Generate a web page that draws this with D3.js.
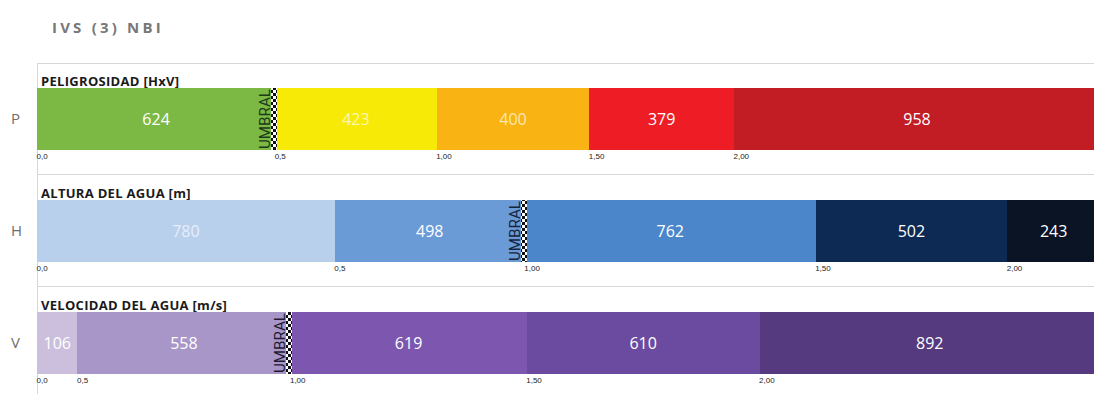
<!DOCTYPE html>
<html><head><meta charset="utf-8">
<script src="https://cdn.jsdelivr.net/npm/d3@7"></script>
<style>
html,body{margin:0;padding:0;background:#fff;}
svg{display:block;}
</style></head>
<body>
<svg id="chart" width="1094" height="394"></svg>
<script>
const title = "IVS (3) NBI";
const rowKeys = ["P", "H", "V"];
const rowTitles = ["PELIGROSIDAD [HxV]", "ALTURA DEL AGUA [m]", "VELOCIDAD DEL AGUA [m/s]"];
const valuesP = [624, 423, 400, 379, 958];
const valuesH = [780, 498, 762, 502, 243];
const valuesV = [106, 558, 619, 610, 892];
const tickLabels = ["0,0", "0,5", "1,00", "1,50", "2,00"];
const umbralIndex = [1, 2, 2];
const colorsP = ["#7cb944", "#f7ea07", "#f9b313", "#ee1c25", "#c21c25"];
const colorsH = ["#b9d0ec", "#6b9bd7", "#4b86cb", "#0c2a53", "#0a1425"];
const colorsV = ["#cbbfdd", "#a896c8", "#7d56b0", "#6b4b9f", "#553a7f"];
const labelColorsP = ["#fff", "#fbf6b0", "#fde6b0", "#fff", "#fff"];
const labelColorsH = ["#e6eef9", "#fff", "#fff", "#fff", "#fff"];
const labelColorsV = ["#fff", "#fff", "#fff", "#fff", "#fff"];

const rows = [
  {key: rowKeys[0], title: rowTitles[0], values: valuesP, colors: colorsP, lc: labelColorsP, umbral: umbralIndex[0], uc: "#1d3a1b"},
  {key: rowKeys[1], title: rowTitles[1], values: valuesH, colors: colorsH, lc: labelColorsH, umbral: umbralIndex[1], uc: "#16233a"},
  {key: rowKeys[2], title: rowTitles[2], values: valuesV, colors: colorsV, lc: labelColorsV, umbral: umbralIndex[2], uc: "#221a30"}
];

const svg = d3.select("#chart");
const total = d3.max(rows, r => d3.sum(r.values));
const x = d3.scaleLinear().domain([0, total]).range([37, 1100]);

// checker pattern
const defs = svg.append("defs");
const pat = defs.append("pattern").attr("id", "checker").attr("patternUnits", "userSpaceOnUse")
  .attr("width", 6).attr("height", 6);
pat.append("rect").attr("width", 6).attr("height", 6).attr("fill", "#fff");
pat.append("rect").attr("x", 0).attr("y", 0).attr("width", 3).attr("height", 3).attr("fill", "#111");
pat.append("rect").attr("x", 3).attr("y", 3).attr("width", 3).attr("height", 3).attr("fill", "#111");

// title
svg.append("text").attr("x", 52).attr("y", 33).text(title)
  .attr("font-family", "Open Sans, sans-serif").attr("font-weight", 700)
  .attr("font-size", 15).attr("letter-spacing", 3.2).attr("fill", "#787878");

// frame lines
svg.append("line").attr("x1", 37).attr("x2", 1094).attr("y1", 63.5).attr("y2", 63.5).attr("stroke", "#d8d8d8");
svg.append("line").attr("x1", 37.5).attr("x2", 37.5).attr("y1", 63).attr("y2", 394).attr("stroke", "#d8d8d8");

const rowTop = [88, 200, 312];
const barH = 62;

rows.forEach((r, i) => {
  const top = rowTop[i];
  const g = svg.append("g");
  if (i > 0) {
    g.append("line").attr("x1", 37).attr("x2", 1094).attr("y1", top - 25.5).attr("y2", top - 25.5).attr("stroke", "#d8d8d8");
  }
  const cum = [0];
  r.values.forEach(v => cum.push(cum[cum.length - 1] + v));
  const segs = r.values.map((v, j) => ({v, s: cum[j], e: cum[j + 1], c: r.colors[j], lc: r.lc[j]}));

  // row key
  g.append("text").attr("x", 11).attr("y", top + barH / 2 + 5).text(r.key)
    .attr("font-family", "Open Sans, sans-serif").attr("font-size", 15).attr("fill", "#6e6e6e");
  // section title
  g.append("text").attr("x", 41).attr("y", top - 2).text(r.title)
    .attr("font-family", "Open Sans, sans-serif").attr("font-weight", 700)
    .attr("font-size", 13).attr("letter-spacing", 0.3).attr("fill", "#1a1a1a");

  g.selectAll("rect.seg").data(segs).join("rect").attr("class", "seg")
    .attr("x", d => Math.round(x(d.s))).attr("width", d => Math.round(x(d.e)) - Math.round(x(d.s)))
    .attr("y", top).attr("height", barH).attr("fill", d => d.c)
    .attr("shape-rendering", "crispEdges");

  g.selectAll("text.val").data(segs).join("text").attr("class", "val")
    .attr("x", d => (x(d.s) + Math.min(x(d.e), 1094)) / 2 + (d.e === cum[cum.length - 1] ? 3 : 0))
    .attr("y", top + barH / 2 + 5.5).attr("text-anchor", "middle")
    .attr("font-family", "Open Sans, sans-serif").attr("font-size", 16)
    .attr("fill", d => d.lc).text(d => d.v);

  // axis with boundaries
  const axis = d3.axisBottom(x).tickValues(cum.slice(0, 5)).tickSize(0)
    .tickFormat((d, k) => tickLabels[k]);
  const ag = g.append("g").attr("transform", `translate(0,${top + barH})`).call(axis);
  ag.select(".domain").remove();
  ag.selectAll("text").attr("text-anchor", "start").attr("dx", -1).attr("dy", 0).attr("y", 9)
    .attr("font-family", "Liberation Sans Narrow, Liberation Sans, sans-serif")
    .attr("font-size", 8).attr("fill", "#222");

  // umbral marker
  const bx = Math.round(x(cum[r.umbral]));
  g.append("rect").attr("x", bx - 4).attr("y", top).attr("width", 6).attr("height", barH)
    .attr("fill", "url(#checker)").attr("shape-rendering", "crispEdges");
  g.append("text").attr("transform", `translate(${bx - 5.5},${top + barH - 1}) rotate(-90)`)
    .text("UMBRAL").attr("font-family", "Roboto, sans-serif").attr("font-size", 14)
    .attr("textLength", 60).attr("lengthAdjust", "spacingAndGlyphs")
    .attr("fill", r.uc);
});
</script>
</body></html>
